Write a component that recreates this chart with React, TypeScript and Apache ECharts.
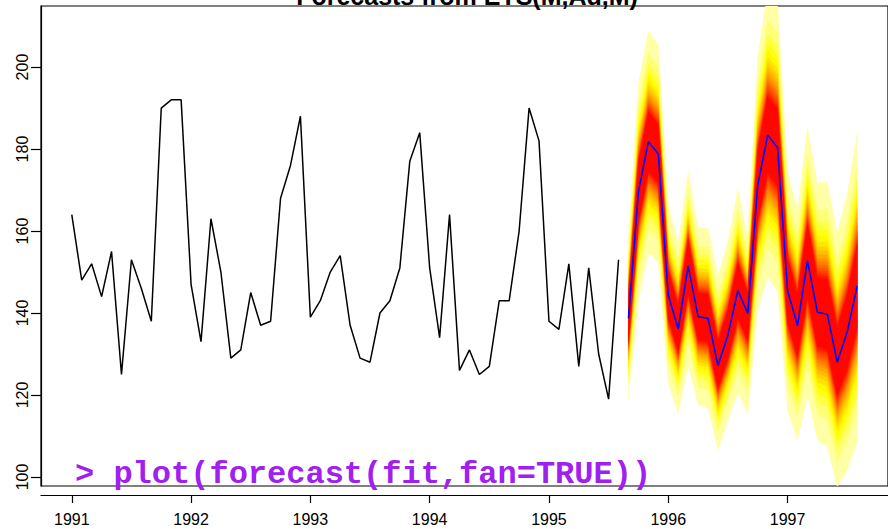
import React, { useEffect, useRef } from "react";
import * as echarts from "echarts";

// ---- data ----
const histStart = 1991; // January 1991, monthly
const histValues = [
  164, 148, 152, 144, 155, 125, 153, 146, 138, 190, 192, 192,
  147, 133, 163, 150, 129, 131, 145, 137, 138, 168, 176, 188,
  139, 143, 150, 154, 137, 129, 128, 140, 143, 151, 177, 184,
  151, 134, 164, 126, 131, 125, 127, 143, 143, 160, 190, 182,
  138, 136, 152, 127, 151, 130, 119, 153,
];
const fcStart = 1995 + 8 / 12; // September 1995
const fcMean = [
  138.7, 169.6, 181.8, 178.8, 144.4, 136.1, 151.5, 139.1, 138.7, 127.2, 134.6, 145.5,
  139.9, 171.2, 183.4, 180.3, 145.5, 136.9, 152.8, 140.2, 139.7, 128.0, 135.4, 146.6,
];
const fcUpper99 = [
  158.7, 196.1, 208.8, 205.4, 166.3, 157.0, 174.7, 160.7, 160.7, 149.0, 157.5, 170.4,
  158.0, 202.5, 218.5, 215.5, 174.5, 165.1, 185.4, 171.6, 172.0, 159.5, 169.0, 183.8,
];
const fcLower99 = [
  118.8, 143.0, 154.6, 152.5, 122.9, 115.5, 127.3, 117.6, 116.8, 106.6, 113.9, 120.5,
  115.5, 140.7, 148.9, 145.2, 116.3, 109.0, 120.0, 109.0, 107.4, 97.6, 101.7, 108.6,
];
const fanLevels = [51, 54, 57, 60, 63, 66, 69, 72, 75, 78, 81, 84, 87, 90, 93, 96, 99];
// standard normal quantiles for each fan level
const fanZ = [
  0.6903, 0.7388, 0.7892, 0.8416, 0.8965, 0.9542, 1.0152, 1.0803, 1.1503,
  1.2265, 1.3106, 1.4051, 1.5141, 1.6449, 1.8119, 2.0537, 2.5758,
];
const fanColors = [
  "#FF0700", "#FF1B00", "#FF2F00", "#FF4300", "#FF5700", "#FF6B00", "#FF8000",
  "#FF9400", "#FFA800", "#FFBC00", "#FFD000", "#FFE400", "#FFF800", "#FFFF14",
  "#FFFF45", "#FFFF75", "#FFFFA6",
];
const xTicks = [1991, 1992, 1993, 1994, 1995, 1996, 1997];
const yTicks = [100, 120, 140, 160, 180, 200];
const titleText = "Forecasts from ETS(M,Ad,M)";
const codeText = "> plot(forecast(fit,fan=TRUE))";

const histTime = histValues.map((_, i) => histStart + i / 12);
const fcTime = fcMean.map((_, i) => fcStart + i / 12);

export default function App() {
  const ref = useRef<HTMLDivElement>(null);

  useEffect(() => {
    if (!ref.current) return;
    const chart = echarts.init(ref.current, undefined, { renderer: "svg" });
    const zMax = fanZ[fanZ.length - 1];
    const fanOrder = fanLevels.map((_, k) => k).reverse(); // outer first

    chart.setOption({
      animation: false,
      backgroundColor: "#ffffff",
      grid: {
        left: 41,
        top: 6,
        width: 852,
        height: 480,
        show: true,
        borderColor: "#000",
        borderWidth: 1.2,
        backgroundColor: "transparent",
      },
      xAxis: {
        type: "value",
        min: 1990.742,
        max: 1997.842,
        offset: 9,
        axisLine: { show: true, onZero: false, lineStyle: { color: "#000", width: 1.2 } },
        axisTick: { show: true, length: 8, customValues: xTicks, lineStyle: { color: "#000", width: 1.2 } },
        axisLabel: {
          customValues: xTicks,
          color: "#000",
          fontSize: 16,
          fontFamily: "Liberation Sans, Arial, sans-serif",
          margin: 16,
          formatter: (v: number) => String(Math.round(v)),
        },
        splitLine: { show: false },
      },
      yAxis: {
        type: "value",
        min: 97.8,
        max: 214.9,
        axisLine: { show: true, onZero: false, lineStyle: { color: "#000", width: 1.2 } },
        axisTick: { show: true, length: 10, customValues: yTicks, lineStyle: { color: "#000", width: 1.2 } },
        axisLabel: {
          customValues: yTicks,
          rotate: 90,
          color: "#000",
          fontSize: 16,
          fontFamily: "Liberation Sans, Arial, sans-serif",
          margin: 11,
        },
        splitLine: { show: false },
      },
      graphic: [
        {
          type: "text",
          x: 467,
          y: -4.5,
          silent: true,
          style: {
            text: titleText,
            fill: "#000",
            fontSize: 25,
            fontWeight: "bold",
            fontFamily: "Liberation Sans, Arial, sans-serif",
            align: "center",
            verticalAlign: "middle",
          },
        },
        {
          type: "text",
          x: 75,
          y: 474,
          z: 100,
          silent: true,
          style: {
            text: codeText,
            fill: "#A020F0",
            fontSize: 32,
            fontWeight: "bold",
            fontFamily: "Liberation Mono, Courier New, monospace",
            align: "left",
            verticalAlign: "middle",
          },
        },
      ],
      series: [
        {
          type: "custom",
          name: "fan",
          clip: true,
          silent: true,
          encode: { x: 0, y: 1 },
          data: fanOrder.map((k) => [fcTime[0], fcMean[0], k]),
          renderItem: (params: any, api: any) => {
            const k = api.value(2);
            const r = fanZ[k] / zMax;
            const up = fcMean.map((m, i) => api.coord([fcTime[i], m + (fcUpper99[i] - m) * r]));
            const lo = fcMean
              .map((m, i) => api.coord([fcTime[i], m - (m - fcLower99[i]) * r]))
              .reverse();
            return {
              type: "polygon",
              shape: { points: up.concat(lo) },
              style: { fill: fanColors[k], stroke: fanColors[k], lineWidth: 0.3 },
            };
          },
          z: 1,
        },
        {
          type: "line",
          name: "observed",
          data: histValues.map((v, i) => [histTime[i], v]),
          showSymbol: false,
          symbol: "none",
          lineStyle: { color: "#000", width: 1.5 },
          z: 3,
        },
        {
          type: "line",
          name: "mean",
          data: fcMean.map((v, i) => [fcTime[i], v]),
          showSymbol: false,
          symbol: "none",
          lineStyle: { color: "#0000FF", width: 1.6 },
          z: 4,
        },
      ],
    });

    return () => {
      chart.dispose();
    };
  }, []);

  return (
    <div
      ref={ref}
      style={{ position: "fixed", left: 0, top: 0, width: 888, height: 529, background: "#fff" }}
    />
  );
}
